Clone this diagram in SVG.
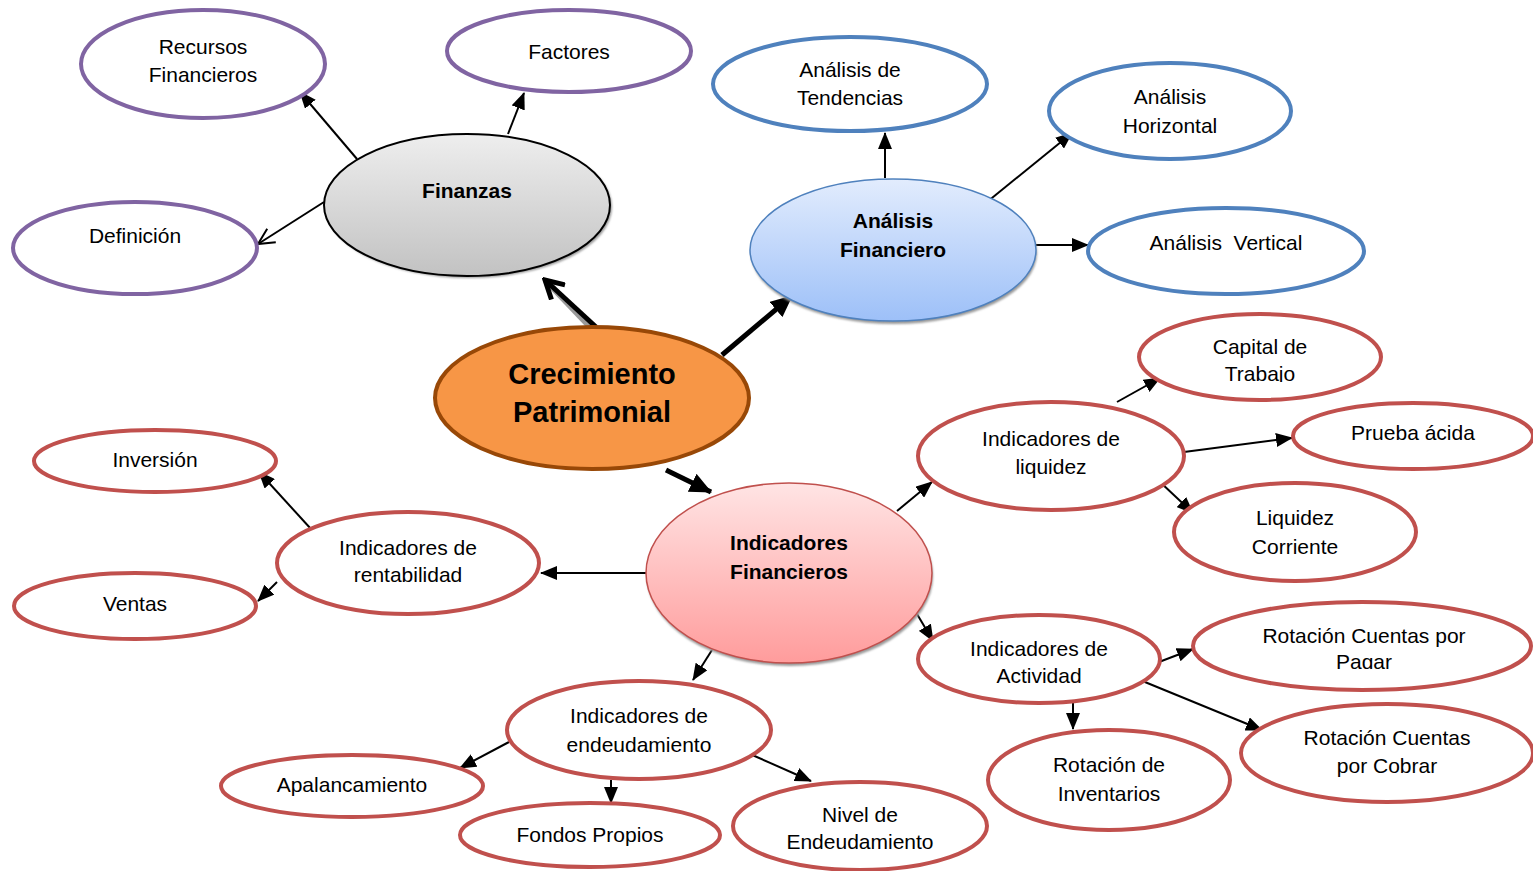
<svg xmlns="http://www.w3.org/2000/svg" width="1533" height="871" viewBox="0 0 1533 871">
  <defs>
    <linearGradient id="gGray" x1="0" y1="0" x2="0" y2="1">
      <stop offset="0" stop-color="#eeeeee"/>
      <stop offset="1" stop-color="#c2c2c2"/>
    </linearGradient>
    <linearGradient id="gBlue" x1="0" y1="0" x2="0" y2="1">
      <stop offset="0" stop-color="#e2ecfd"/>
      <stop offset="1" stop-color="#9dc0f8"/>
    </linearGradient>
    <linearGradient id="gPink" x1="0" y1="0" x2="0" y2="1">
      <stop offset="0" stop-color="#ffe4e4"/>
      <stop offset="1" stop-color="#ff9c9c"/>
    </linearGradient>
    <filter id="soft" x="-10%" y="-10%" width="120%" height="130%">
      <feGaussianBlur stdDeviation="1"/>
    </filter>
    <marker id="tri" markerUnits="userSpaceOnUse" markerWidth="17" markerHeight="14" refX="16" refY="7" orient="auto">
      <path d="M0,0 L17,7 L0,14 Z" fill="#000"/>
    </marker>
    <marker id="triBig" markerUnits="userSpaceOnUse" markerWidth="22" markerHeight="20" refX="21" refY="10" orient="auto">
      <path d="M0,0 L22,10 L0,20 Z" fill="#000"/>
    </marker>
    <marker id="vee" markerUnits="userSpaceOnUse" markerWidth="18" markerHeight="18" refX="17" refY="9" orient="auto">
      <path d="M1,1 L17,9 L1,17" fill="none" stroke="#000" stroke-width="2"/>
    </marker>
    <marker id="veeBig" markerUnits="userSpaceOnUse" markerWidth="24" markerHeight="24" refX="21" refY="12" orient="auto">
      <path d="M3,2 L21,12 L3,22" fill="none" stroke="#000" stroke-width="5"/>
    </marker>
    <clipPath id="clipTrabajo"><rect x="1140" y="300" width="240" height="82"/></clipPath>
    <clipPath id="clipPagar"><rect x="1195" y="600" width="338" height="69"/></clipPath>
    <clipPath id="clipNivel"><rect x="735" y="780" width="250" height="69"/></clipPath>
  </defs>
  <style>
    .purple { fill: #fff; stroke: #8064a2; stroke-width: 4; }
    .blue { fill: #fff; stroke: #4f81bd; stroke-width: 4; }
    .red { fill: #fff; stroke: #c0504d; stroke-width: 4; }
    .shadow { fill: #9a9a9a; filter: url(#soft); }
    .lbl { font-family: "Liberation Sans", Arial, sans-serif; font-size: 21px; fill: #000; text-anchor: middle; }
    .bold { font-weight: bold; }
    .big { font-size: 29px; }
    .ln { stroke: #000; stroke-width: 2; fill: none; }
    .thick { stroke: #000; stroke-width: 5; fill: none; }
  </style>

  <!-- connectors -->
  <g id="connectors">
    <line x1="592" y1="329" x2="549" y2="284" stroke="#9a9a9a" stroke-width="6"/>
    <line class="thick" x1="596" y1="327" x2="545" y2="280" marker-end="url(#veeBig)"/>
    <line class="thick" x1="722" y1="355" x2="792" y2="296" marker-end="url(#triBig)"/>
    <line class="thick" x1="666" y1="470" x2="711" y2="492" marker-end="url(#triBig)"/>

    <line class="ln" x1="357" y1="159" x2="300" y2="92" marker-end="url(#tri)"/>
    <line class="ln" x1="508" y1="134" x2="524" y2="93" marker-end="url(#tri)"/>
    <line class="ln" x1="324" y1="202" x2="258" y2="244" marker-end="url(#vee)"/>

    <line class="ln" x1="885" y1="178" x2="885" y2="133" marker-end="url(#tri)"/>
    <line class="ln" x1="987" y1="202" x2="1072" y2="133" marker-end="url(#tri)"/>
    <line class="ln" x1="1036" y1="245" x2="1088" y2="245" marker-end="url(#tri)"/>

    <line class="ln" x1="897" y1="511" x2="932" y2="482" marker-end="url(#tri)"/>
    <line class="ln" x1="1117" y1="402" x2="1160" y2="378" marker-end="url(#tri)"/>
    <line class="ln" x1="1184" y1="452" x2="1292" y2="438" marker-end="url(#tri)"/>
    <line class="ln" x1="1160" y1="482" x2="1193" y2="513" marker-end="url(#tri)"/>

    <line class="ln" x1="646" y1="573" x2="541" y2="573" marker-end="url(#tri)"/>
    <line class="ln" x1="311" y1="529" x2="259" y2="472" marker-end="url(#tri)"/>
    <line class="ln" x1="277" y1="582" x2="258" y2="601" marker-end="url(#tri)"/>

    <line class="ln" x1="917" y1="614" x2="933" y2="641" marker-end="url(#tri)"/>
    <line class="ln" x1="712" y1="650" x2="693" y2="680" marker-end="url(#tri)"/>

    <line class="ln" x1="1159" y1="662" x2="1193" y2="649" marker-end="url(#tri)"/>
    <line class="ln" x1="1140" y1="680" x2="1262" y2="730" marker-end="url(#tri)"/>
    <line class="ln" x1="1073" y1="703" x2="1073" y2="729" marker-end="url(#tri)"/>

    <line class="ln" x1="509" y1="742" x2="460" y2="768" marker-end="url(#tri)"/>
    <line class="ln" x1="611" y1="780" x2="611" y2="803" marker-end="url(#tri)"/>
    <line class="ln" x1="750" y1="754" x2="811" y2="781" marker-end="url(#tri)"/>
  </g>

  <!-- Finanzas branch -->
  <g id="recursos">
    <ellipse class="purple" cx="203" cy="64" rx="122" ry="54"/>
    <text class="lbl" x="203" y="54">Recursos</text>
    <text class="lbl" x="203" y="82">Financieros</text>
  </g>
  <g id="factores">
    <ellipse class="purple" cx="569" cy="51" rx="122" ry="41"/>
    <text class="lbl" x="569" y="59">Factores</text>
  </g>
  <g id="definicion">
    <ellipse class="purple" cx="135" cy="248" rx="122" ry="46"/>
    <text class="lbl" x="135" y="243">Definición</text>
  </g>
  <g id="finanzas">
    <ellipse class="shadow" cx="469" cy="207" rx="143" ry="71"/>
    <ellipse cx="467" cy="205" rx="143" ry="71" fill="url(#gGray)" stroke="#000" stroke-width="2"/>
    <text class="lbl bold" x="467" y="198">Finanzas</text>
  </g>

  <!-- Análisis Financiero branch -->
  <g id="tendencias">
    <ellipse class="blue" cx="850" cy="84" rx="137" ry="47"/>
    <text class="lbl" x="850" y="77">Análisis de</text>
    <text class="lbl" x="850" y="105">Tendencias</text>
  </g>
  <g id="horizontal">
    <ellipse class="blue" cx="1170" cy="111" rx="121" ry="48"/>
    <text class="lbl" x="1170" y="104">Análisis</text>
    <text class="lbl" x="1170" y="133">Horizontal</text>
  </g>
  <g id="vertical">
    <ellipse class="blue" cx="1226" cy="251" rx="138" ry="43"/>
    <text class="lbl" x="1226" y="250" xml:space="preserve">Análisis  Vertical</text>
  </g>
  <g id="analisis-financiero">
    <ellipse class="shadow" cx="894" cy="253" rx="143" ry="71"/>
    <ellipse cx="893" cy="250" rx="143" ry="71" fill="url(#gBlue)" stroke="#4f81bd" stroke-width="1.5"/>
    <text class="lbl bold" x="893" y="228">Análisis</text>
    <text class="lbl bold" x="893" y="257">Financiero</text>
  </g>

  <!-- central node -->
  <g id="crecimiento">
    <ellipse cx="592" cy="398" rx="157" ry="71" fill="#f79646" stroke="#984807" stroke-width="4"/>
    <text class="lbl bold big" x="592" y="384">Crecimiento</text>
    <text class="lbl bold big" x="592" y="422">Patrimonial</text>
  </g>

  <!-- Indicadores Financieros branch -->
  <g id="capital">
    <ellipse class="red" cx="1260" cy="357" rx="121" ry="43"/>
    <text class="lbl" x="1260" y="354">Capital de</text>
    <text class="lbl" x="1260" y="381" clip-path="url(#clipTrabajo)">Trabajo</text>
  </g>
  <g id="liquidez">
    <ellipse class="red" cx="1051" cy="456" rx="133" ry="54"/>
    <text class="lbl" x="1051" y="446">Indicadores de</text>
    <text class="lbl" x="1051" y="474">liquidez</text>
  </g>
  <g id="prueba">
    <ellipse class="red" cx="1413" cy="436" rx="120" ry="33"/>
    <text class="lbl" x="1413" y="440">Prueba ácida</text>
  </g>
  <g id="corriente">
    <ellipse class="red" cx="1295" cy="532" rx="121" ry="49"/>
    <text class="lbl" x="1295" y="525">Liquidez</text>
    <text class="lbl" x="1295" y="554">Corriente</text>
  </g>
  <g id="inversion">
    <ellipse class="red" cx="155" cy="461" rx="121" ry="31"/>
    <text class="lbl" x="155" y="467">Inversión</text>
  </g>
  <g id="rentabilidad">
    <ellipse class="red" cx="408" cy="563" rx="131" ry="51"/>
    <text class="lbl" x="408" y="555">Indicadores de</text>
    <text class="lbl" x="408" y="582">rentabilidad</text>
  </g>
  <g id="ventas">
    <ellipse class="red" cx="135" cy="606" rx="121" ry="33"/>
    <text class="lbl" x="135" y="611">Ventas</text>
  </g>
  <g id="indicadores-financieros">
    <ellipse class="shadow" cx="790" cy="576" rx="143" ry="90"/>
    <ellipse cx="789" cy="573" rx="143" ry="90" fill="url(#gPink)" stroke="#c0504d" stroke-width="1.5"/>
    <text class="lbl bold" x="789" y="550">Indicadores</text>
    <text class="lbl bold" x="789" y="579">Financieros</text>
  </g>
  <g id="actividad">
    <ellipse class="red" cx="1039" cy="659" rx="121" ry="44"/>
    <text class="lbl" x="1039" y="656">Indicadores de</text>
    <text class="lbl" x="1039" y="683">Actividad</text>
  </g>
  <g id="pagar">
    <ellipse class="red" cx="1362" cy="646" rx="169" ry="44"/>
    <text class="lbl" x="1364" y="643">Rotación Cuentas por</text>
    <text class="lbl" x="1364" y="669" clip-path="url(#clipPagar)">Pagar</text>
  </g>
  <g id="cobrar">
    <ellipse class="red" cx="1387" cy="753" rx="146" ry="49"/>
    <text class="lbl" x="1387" y="745">Rotación Cuentas</text>
    <text class="lbl" x="1387" y="773">por Cobrar</text>
  </g>
  <g id="inventarios">
    <ellipse class="red" cx="1109" cy="780" rx="121" ry="50"/>
    <text class="lbl" x="1109" y="772">Rotación de</text>
    <text class="lbl" x="1109" y="801">Inventarios</text>
  </g>
  <g id="endeudamiento">
    <ellipse class="red" cx="639" cy="730" rx="132" ry="49"/>
    <text class="lbl" x="639" y="723">Indicadores de</text>
    <text class="lbl" x="639" y="752">endeudamiento</text>
  </g>
  <g id="apalancamiento">
    <ellipse class="red" cx="352" cy="786" rx="131" ry="31"/>
    <text class="lbl" x="352" y="792">Apalancamiento</text>
  </g>
  <g id="fondos">
    <ellipse class="red" cx="590" cy="835" rx="130" ry="32"/>
    <text class="lbl" x="590" y="842">Fondos Propios</text>
  </g>
  <g id="nivel">
    <ellipse class="red" cx="860" cy="826" rx="127" ry="44"/>
    <text class="lbl" x="860" y="822">Nivel de</text>
    <text class="lbl" x="860" y="849" clip-path="url(#clipNivel)">Endeudamiento</text>
  </g>
</svg>
